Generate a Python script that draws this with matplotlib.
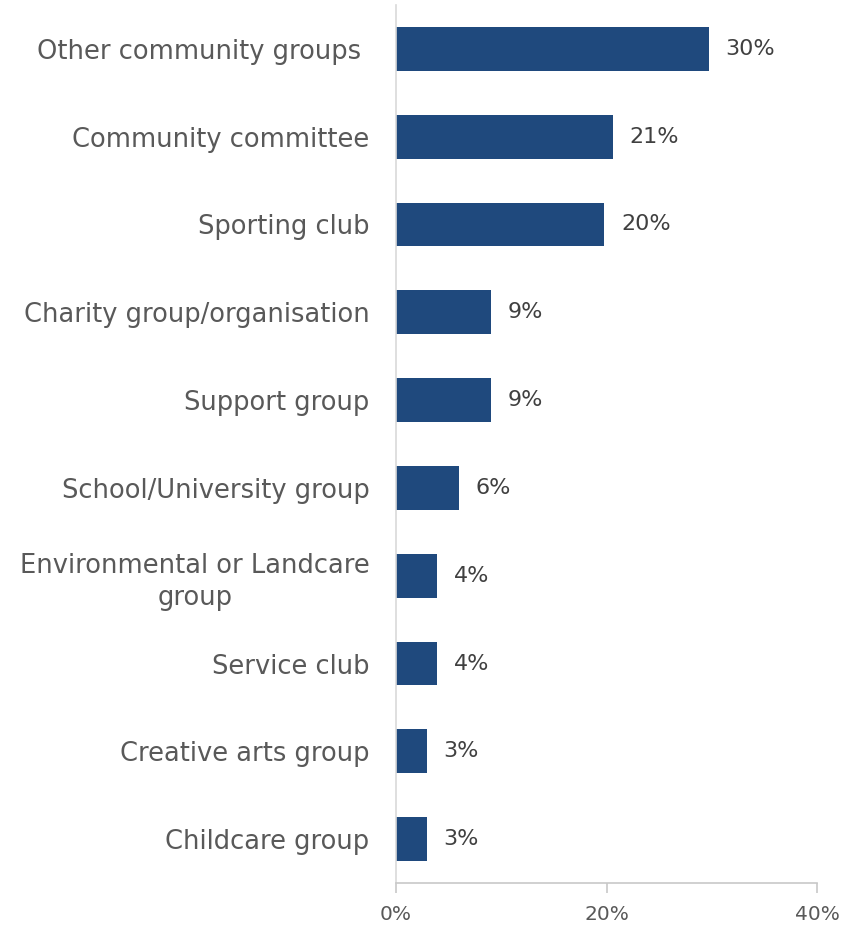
import matplotlib.pyplot as plt
from matplotlib.ticker import FuncFormatter

categories = ['Other community groups ', 'Community committee', 'Sporting club',
              'Charity group/organisation', 'Support group', 'School/University group',
              'Environmental or Landcare\ngroup', 'Service club', 'Creative arts group',
              'Childcare group']
values = [29.7, 20.6, 19.8, 9.0, 9.0, 6.0, 3.9, 3.9, 2.9, 2.9]
x_ticks = [0, 20, 40]

bar_color = '#1f497d'
axis_color = '#c8c8c8'
label_color = '#595959'

plt.rcParams['font.family'] = ['DejaVu Sans']

fig = plt.figure(figsize=(8.54, 9.27), dpi=100)
ax = fig.add_axes([396 / 854, 44 / 927, 421 / 854, 878 / 927])

pos = list(range(len(categories)))[::-1]
bars = ax.barh(pos, values, height=0.5, color=bar_color)

for p, v in zip(pos, values):
    ax.text(v + 1.6, p, '%d%%' % round(v), va='center', ha='left',
            fontsize=16, color='#404040')

ax.set_xlim(0, 40)
ax.set_ylim(-0.5, len(categories) - 0.5)
ax.set_xticks(x_ticks)
ax.xaxis.set_major_formatter(FuncFormatter(lambda x, _: '%d%%' % x))
ax.set_yticks(pos)
ax.set_yticklabels(categories, fontsize=18.5, color=label_color, multialignment='center',
                   linespacing=1.3)

for s in ['top', 'right']:
    ax.spines[s].set_visible(False)
ax.spines['left'].set_color('#d9d9d9')
ax.spines['bottom'].set_color(axis_color)
ax.spines['left'].set_linewidth(1.2)
ax.spines['bottom'].set_linewidth(1.2)

ax.tick_params(axis='y', length=0, pad=19)
ax.tick_params(axis='x', length=7, width=1.2, color=axis_color, labelsize=14.5,
               labelcolor=label_color, pad=9)

fig.savefig('out.png', dpi=100)
